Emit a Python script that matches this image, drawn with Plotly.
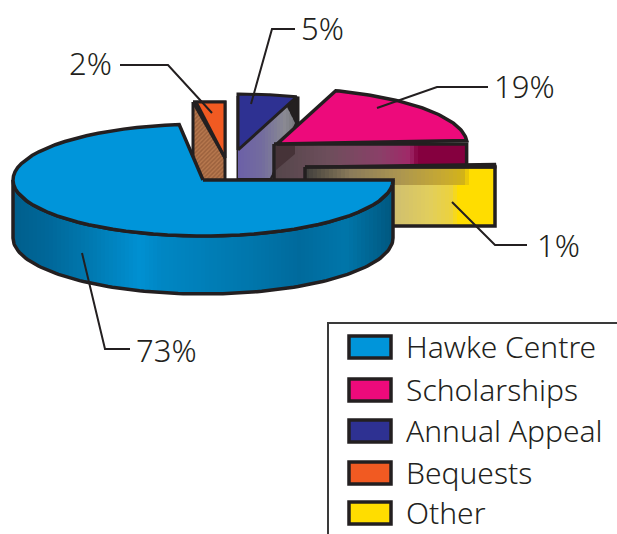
import math
import plotly.graph_objects as go

# ---- data ----
categories = ["Hawke Centre", "Scholarships", "Annual Appeal", "Bequests", "Other"]
values = [73, 19, 5, 2, 1]
colors = ["#0095DA", "#ED0A7B", "#2E3192", "#F15A22", "#FFDD00"]
pie_order = ["Hawke Centre", "Bequests", "Annual Appeal", "Scholarships", "Other"]

# ---- pseudo-3D geometry (pixel-based layout) ----
W, H = 617, 534
RX, RY, DEPTH = 190, 56, 58
apex = {"Hawke Centre": (203, 180), "Bequests": (225, 158), "Annual Appeal": (238, 150),
        "Scholarships": (277, 144), "Other": (305, 167)}
INK = "#231F20"
val = dict(zip(categories, values))
col = dict(zip(categories, colors))

spans, c = {}, 0.0
for n in pie_order:
    spans[n] = (c * 3.6, (c + val[n]) * 3.6)
    c += val[n]


def rim(name, deg):
    ax, ay = apex[name]
    return ax + RX * math.cos(math.radians(deg)), ay + RY * math.sin(math.radians(deg))


def arc(name, a0, a1, n=60):
    return [rim(name, a0 + (a1 - a0) * i / n) for i in range(n + 1)]


def wedge(name):
    return [apex[name]] + arc(name, *spans[name])


def hexrgb(h):
    return [int(h[i:i + 2], 16) for i in (1, 3, 5)]


def ramp(stops, x):
    if x <= stops[0][0]:
        return stops[0][1]
    for (x0, c0), (x1, c1) in zip(stops, stops[1:]):
        if x <= x1:
            t = (x - x0) / (x1 - x0)
            a, b = hexrgb(c0), hexrgb(c1)
            return "rgb(%d,%d,%d)" % tuple(round(p + (q - p) * t) for p, q in zip(a, b))
    return stops[-1][1]


def clipx(poly, x0, x1):
    def cut(pts, keep, xb):
        out = []
        for i, p in enumerate(pts):
            q = pts[(i + 1) % len(pts)]
            if keep(p):
                out.append(p)
            if keep(p) != keep(q):
                t = (xb - p[0]) / (q[0] - p[0])
                out.append((xb, p[1] + t * (q[1] - p[1])))
        return out
    pts = cut(poly, lambda p: p[0] >= x0, x0)
    return cut(pts, lambda p: p[0] <= x1, x1) if pts else []


fig = go.Figure()


def fill(poly, color, name=None, pattern=None, line=None, lw=0):
    xs = [p[0] for p in poly] + [poly[0][0]]
    ys = [p[1] for p in poly] + [poly[0][1]]
    fig.add_trace(go.Scatter(x=xs, y=ys, mode="lines", fill="toself", fillcolor=color,
                             fillpattern=pattern, line=dict(color=line or color, width=lw),
                             hoverinfo="skip", showlegend=False, name=name))


def grad(poly, stops, step=4):
    lo, hi = min(p[0] for p in poly), max(p[0] for p in poly)
    x = lo
    while x < hi:
        piece = clipx(poly, x, min(x + step + 0.6, hi))
        if len(piece) > 2:
            fill(piece, ramp(stops, x + step / 2))
        x += step


def outline(pts, closed=True, w=3.5):
    pts = list(pts) + ([pts[0]] if closed else [])
    fig.add_trace(go.Scatter(x=[p[0] for p in pts], y=[p[1] for p in pts], mode="lines",
                             line=dict(color=INK, width=w), hoverinfo="skip", showlegend=False))


def leader(pts):
    outline(pts, closed=False, w=2)


# Bequests
r1 = rim("Bequests", spans["Bequests"][1])
bq_face = [(193, r1[1]), (apex["Bequests"][0], r1[1]), (apex["Bequests"][0], 182), (193, 182)]
fill(bq_face, "#B8744A", pattern=dict(shape="/", fgcolor="#7E4A2C", bgcolor="#B8784E", size=3, solidity=0.5))
outline(bq_face, w=3)
fill([(196, r1[1]), r1, apex["Bequests"]], col["Bequests"])
outline([(193, r1[1]), r1, apex["Bequests"]], w=3)
outline([(196, r1[1]), apex["Bequests"]], closed=False, w=3)

# Annual Appeal
a0 = rim("Annual Appeal", spans["Annual Appeal"][0])
aa = apex["Annual Appeal"]
back = [(aa[0], a0[1] + 2), (298, 98), (298, 125), (270, 180), (aa[0], 180)]
fill(back, INK)
outline(back, w=3)
grad([aa, (287, 107), (295, 123), (270, 178), (aa[0], 178)],
     [(238, "#6C60A8"), (262, "#736C9E"), (285, "#8A8A92"), (295, "#77777D")], step=3)
fill(wedge("Annual Appeal"), col["Annual Appeal"])
outline(wedge("Annual Appeal"), w=3)

# Scholarships
s_ax, s_ay = apex["Scholarships"]
s_end = rim("Scholarships", spans["Scholarships"][1])
s_face = [(274, s_ay), (s_end[0], s_ay), (s_end[0], 185), (274, 185)]
grad(s_face, [(274, "#54464A"), (330, "#6E4E5C"), (380, "#8A4068"), (410, "#A02868"),
              (418, "#85003F"), (467, "#85003F")])
fill([(276, 146), (295, 146), (295, 154), (276, 170)], "#463338")
outline(s_face, w=3.5)
fill(wedge("Scholarships"), col["Scholarships"])
outline(wedge("Scholarships"), w=3.5)

# Other
o_ax, o_ay = apex["Other"]
o_end = rim("Other", spans["Other"][1])
o_rect = [(o_ax, o_ay), (o_end[0], o_ay), (o_end[0], o_ay + 59), (o_ax, o_ay + 59)]
grad([(o_ax, o_ay), (o_end[0], o_ay), (o_end[0], 185), (o_ax, 185)],
     [(305, "#403E3C"), (350, "#8A7A5A"), (400, "#AC9650"), (445, "#C8AA30"), (466, "#D4B414"),
      (468, "#FFDD00"), (495, "#FFDD00")])
grad([(o_ax, 185), (o_end[0], 185), (o_end[0], o_ay + 59), (o_ax, o_ay + 59)],
     [(390, "#CDBD72"), (430, "#E2CE5C"), (452, "#EDD23C"), (458, "#FFDD00"), (495, "#FFDD00")])
outline(o_rect, w=3.5)
fill(wedge("Other"), col["Other"])
outline(wedge("Other"), w=3)

# Hawke Centre
h_rim = arc("Hawke Centre", 0, 180, 120)
h_side = h_rim + [(x, y + DEPTH) for x, y in reversed(h_rim)]
grad(h_side, [(13, "#005E8C"), (50, "#00689A"), (90, "#0079B0"), (140, "#0090D2"), (160, "#0087C4"),
              (250, "#0076AC"), (300, "#006A9C"), (345, "#0076AA"), (393, "#00577F")], step=4)
outline(h_side, w=3.5)
fill(wedge("Hawke Centre"), col["Hawke Centre"])
outline(wedge("Hawke Centre"), w=3.5)

# Leader lines and value labels
leaders = {"Hawke Centre": [(82, 253), (105, 349), (130, 349)],
           "Scholarships": [(377, 108), (437, 87), (488, 87)],
           "Annual Appeal": [(251, 104), (272, 29), (295, 29)],
           "Bequests": [(212, 113), (168, 65), (120, 65)],
           "Other": [(452, 202), (495, 245), (527, 245)]}
label_pos = {"Hawke Centre": (134, 350, "left"), "Scholarships": (492, 86, "left"),
             "Annual Appeal": (299, 28, "left"), "Bequests": (114, 63, "right"),
             "Other": (535, 245, "left")}
FONT = "Noto Sans"
for n in categories:
    leader(leaders[n])
    x, y, anc = label_pos[n]
    fig.add_annotation(x=x, y=y, text=f"{val[n]}%", showarrow=False, xanchor=anc, yanchor="middle",
                       font=dict(family=FONT, size=31, color=INK, weight=300))

# Legend panel
shapes = [dict(type="line", x0=328, x1=328, y0=322, y1=H, line=dict(color="#3A3A3A", width=2)),
          dict(type="line", x0=327, x1=W, y0=323, y1=323, line=dict(color="#3A3A3A", width=2))]
swatch_y = [347, 390, 431, 473, 513]
for n, y in zip(categories, swatch_y):
    shapes.append(dict(type="rect", x0=349, x1=391, y0=y - 11, y1=y + 11, fillcolor=col[n],
                       line=dict(color=INK, width=3.5)))
    fig.add_annotation(x=404, y=y - 1, text=n, showarrow=False, xanchor="left", yanchor="middle",
                       font=dict(family=FONT, size=30, color=INK, weight=300))

fig.update_layout(width=W, height=H, margin=dict(l=0, r=0, t=0, b=0), showlegend=False,
                  paper_bgcolor="white", plot_bgcolor="white", shapes=shapes,
                  xaxis=dict(visible=False, range=[0, W], fixedrange=True),
                  yaxis=dict(visible=False, range=[H, 0], fixedrange=True))
fig.write_html("out.html", config=dict(displayModeBar=False),
               post_script="document.body.style.margin='0';document.body.style.overflow='hidden';")
